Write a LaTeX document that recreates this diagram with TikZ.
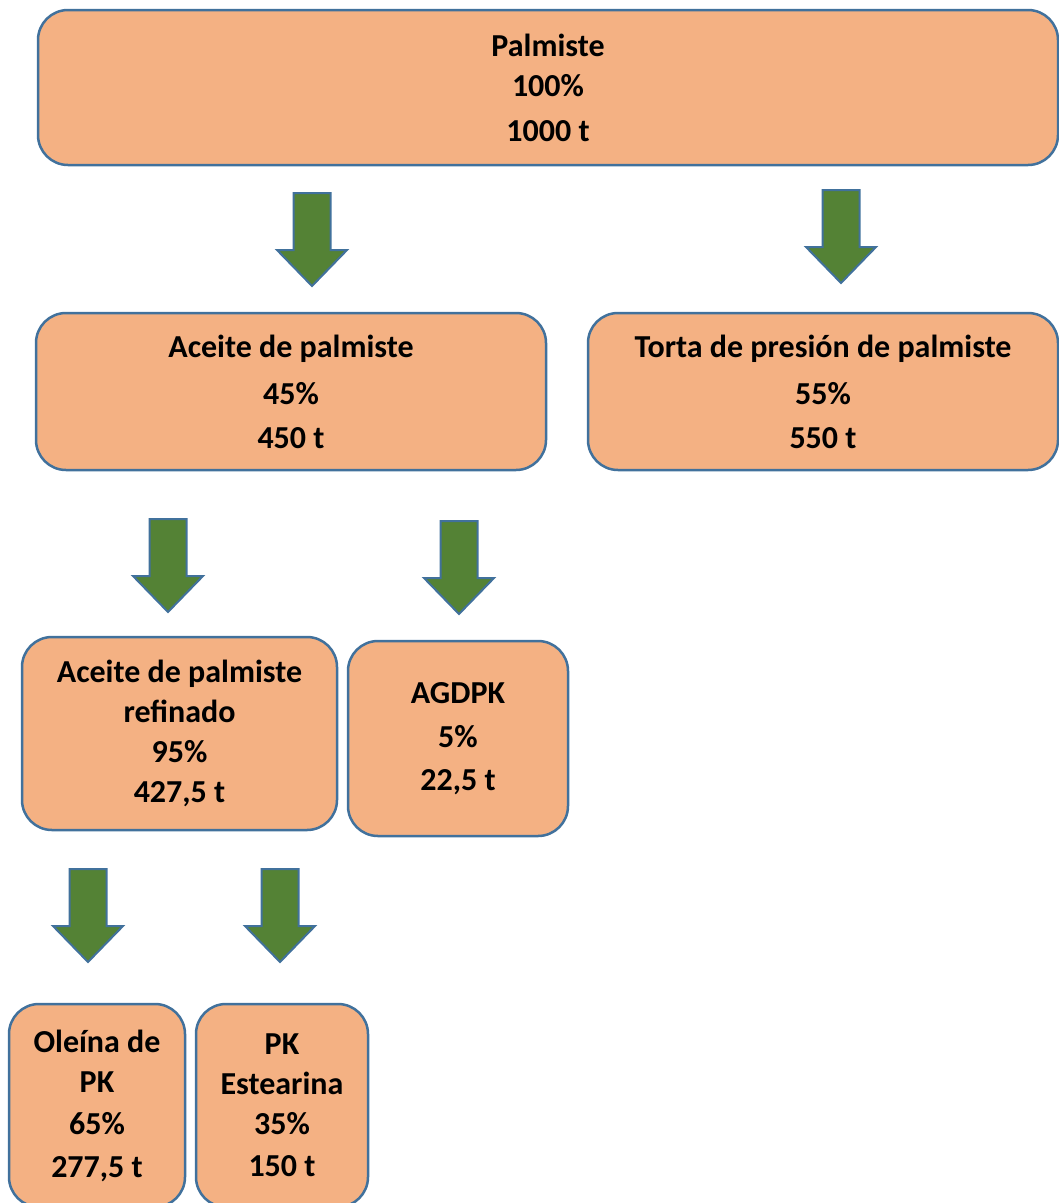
\documentclass[tikz,border=0pt]{standalone}
\usepackage{fontspec}
\setmainfont{Carlito}
\definecolor{boxfill}{HTML}{F4B183}
\definecolor{boxline}{HTML}{41719C}
\definecolor{arrfill}{HTML}{548235}

\begin{document}
\begin{tikzpicture}[x=1pt, y=-1pt,
    stage/.style={draw=boxline, fill=boxfill, line width=2.5pt, rounded corners=30pt, inner sep=0pt, align=center, font=\fontsize{32}{40}\selectfont\bfseries},
    flow/.pic={\draw[draw=boxline, fill=arrfill, line width=2pt, line join=miter] (-18.5,0) -- (18.5,0) -- (18.5,57) -- (35,57) -- (0,93) -- (-35,57) -- (-18.5,57) -- cycle;}]
    \useasboundingbox (0,0) rectangle (1059,1203);
    % top level
    \node[stage, minimum width=1020pt, minimum height=155pt] (palmiste) at (548,87.5) {Palmiste\\100\%\\[5pt]1000 t};
    \pic (a1) at (312,193) {flow};
    \pic (a2) at (841,190) {flow};
    % second level
    \node[stage, minimum width=510pt, minimum height=157pt] (aceite) at (291,391.5) {Aceite de palmiste\\[7pt]45\%\\[4pt]450 t};
    \node[stage, minimum width=470pt, minimum height=157pt] (torta) at (823,391.5) {Torta de presión de palmiste\\[7pt]55\%\\[4pt]550 t};
    \pic (a3) at (168,519) {flow};
    \pic (a4) at (459,521) {flow};
    % third level
    \node[stage, minimum width=315pt, minimum height=193pt] (refinado) at (179.5,733.5) {Aceite de palmiste\\refinado\\95\%\\427,5 t};
    \node[stage, minimum width=220pt, minimum height=195pt] (agdpk) at (458,738.5) {AGDPK\\[4pt]5\%\\[3pt]22,5 t};
    \pic (a5) at (88,869) {flow};
    \pic (a6) at (280,869) {flow};
    % fractions
    \node[stage, minimum width=176pt, minimum height=203pt] (oleina) at (97,1105.5) {Oleína de\\PK\\[2pt]65\%\\[3pt]277,5 t};
    \node[stage, minimum width=172pt, minimum height=203pt] (estearina) at (282,1105.5) {PK\\Estearina\\35\%\\[2pt]150 t};
\end{tikzpicture}
\end{document}
